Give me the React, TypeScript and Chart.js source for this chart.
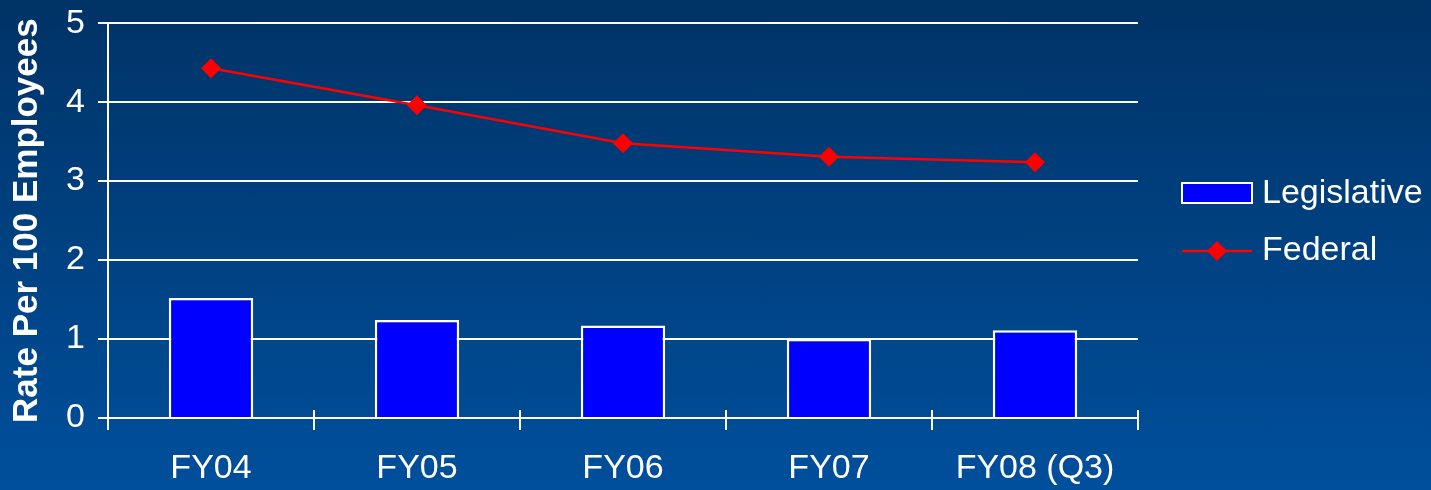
import React, { useEffect, useRef } from "react";
import { Chart, registerables } from "chart.js";

Chart.register(...registerables);

const categories = ["FY04", "FY05", "FY06", "FY07", "FY08 (Q3)"];
const legislative = [1.52, 1.24, 1.17, 1.0, 1.11];
const federal = [4.43, 3.96, 3.48, 3.31, 3.24];
const seriesNames = ["Legislative", "Federal"];
const yAxisTitle = "Rate Per 100 Employees";

const FONT = '"Liberation Sans", Arial, sans-serif';
const BLUE = "#0000ff";
const RED = "#ff0000";
const WHITE = "#ffffff";

const crossTicksPlugin = {
  id: "crossTicks",
  afterDraw(chart: any) {
    const x = chart.scales.x;
    const ctx = chart.ctx;
    const y0 = x.top;
    ctx.save();
    ctx.strokeStyle = WHITE;
    ctx.lineWidth = 2;
    for (let i = 0; i <= categories.length; i++) {
      const px = Math.round(x.getPixelForValue(i - 0.5));
      ctx.beginPath();
      ctx.moveTo(px, y0 - 8);
      ctx.lineTo(px, y0);
      ctx.stroke();
    }
    ctx.restore();
  },
};

const legendPlugin = {
  id: "customLegend",
  afterDraw(chart: any) {
    const ctx = chart.ctx;
    ctx.save();
    // Legislative
    ctx.fillStyle = BLUE;
    ctx.fillRect(1182, 183, 70, 20);
    ctx.strokeStyle = WHITE;
    ctx.lineWidth = 2;
    ctx.strokeRect(1182, 183, 70, 20);
    ctx.font = `34px ${FONT}`;
    ctx.fillStyle = WHITE;
    ctx.textBaseline = "middle";
    ctx.textAlign = "left";
    ctx.fillText(seriesNames[0], 1262, 194);
    // Federal
    ctx.strokeStyle = RED;
    ctx.lineWidth = 2.5;
    ctx.beginPath();
    ctx.moveTo(1182, 251);
    ctx.lineTo(1252, 251);
    ctx.stroke();
    ctx.fillStyle = RED;
    ctx.beginPath();
    ctx.moveTo(1217, 241);
    ctx.lineTo(1227, 251);
    ctx.lineTo(1217, 261);
    ctx.lineTo(1207, 251);
    ctx.closePath();
    ctx.fill();
    ctx.fillStyle = WHITE;
    ctx.fillText(seriesNames[1], 1262, 251);
    ctx.restore();
  },
};

export default function App() {
  const ref = useRef<HTMLCanvasElement | null>(null);
  useEffect(() => {
    if (!ref.current) return;
    const chart = new Chart(ref.current, {
      type: "bar",
      data: {
        labels: categories,
        datasets: [
          {
            type: "line",
            label: seriesNames[1],
            data: federal,
            borderColor: RED,
            backgroundColor: RED,
            borderWidth: 2.5,
            pointStyle: "rectRot",
            pointRadius: 10,
            pointBorderWidth: 0,
            pointBackgroundColor: RED,
            order: 0,
          },
          {
            type: "bar",
            label: seriesNames[0],
            data: legislative,
            backgroundColor: BLUE,
            borderColor: WHITE,
            borderWidth: 2.5,
            categoryPercentage: 1,
            barPercentage: 0.41,
            order: 1,
          },
        ],
      },
      plugins: [crossTicksPlugin, legendPlugin],
      options: {
        responsive: false,
        animation: false,
        layout: { padding: { left: 0, top: 22, right: 293, bottom: 0 } },
        plugins: {
          legend: { display: false },
          tooltip: { enabled: false },
        },
        scales: {
          x: {
            offset: true,
            grid: {
              display: true,
              offset: true,
              drawOnChartArea: false,
              drawTicks: true,
              tickLength: 12,
              color: WHITE,
              lineWidth: 2,
            },
            border: { display: true, color: WHITE, width: 2 },
            ticks: {
              color: WHITE,
              font: { family: FONT, size: 34 },
              padding: 18,
              maxRotation: 0,
              autoSkip: false,
            },
            afterFit: (s: any) => {
              s.height = 72;
            },
          },
          y: {
            min: 0,
            max: 5,
            ticks: {
              stepSize: 1,
              color: WHITE,
              font: { family: FONT, size: 34, lineHeight: 0.6 },
              padding: 13,
            },
            grid: {
              color: WHITE,
              lineWidth: 2,
              tickLength: 10,
            },
            border: { display: true, color: WHITE, width: 2 },
            title: {
              display: true,
              text: yAxisTitle,
              color: WHITE,
              font: { family: FONT, size: 35, weight: "bold" },
              padding: { top: 6, bottom: 0 },
            },
            afterFit: (s: any) => {
              s.width = 108;
            },
          },
        },
      },
    });
    return () => chart.destroy();
  }, []);

  return (
    <div
      style={{
        position: "fixed",
        left: 0,
        top: 0,
        width: 1431,
        height: 490,
        background: "linear-gradient(to bottom, #003366 0%, #004f9c 100%)",
      }}
    >
      <canvas ref={ref} width={1431} height={490} style={{ display: "block" }} />
    </div>
  );
}
